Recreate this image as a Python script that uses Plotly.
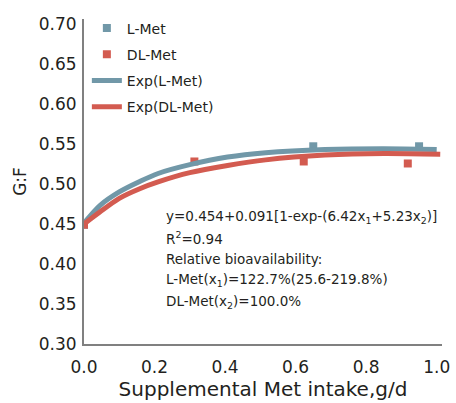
import plotly.graph_objects as go

# Observed data points
l_met_x = [0.0, 0.65, 0.95]
l_met_y = [0.449, 0.547, 0.547]
dl_met_x = [0.0, 0.313, 0.623, 0.918]
dl_met_y = [0.449, 0.528, 0.528, 0.5255]

# Fitted curves
exp_l_x = [0.0, 0.045, 0.1, 0.158, 0.21, 0.3, 0.407, 0.515, 0.683, 0.85, 1.0]
exp_l_y = [0.451, 0.473, 0.490, 0.503, 0.513, 0.524, 0.5335, 0.539, 0.543, 0.544, 0.543]
exp_dl_x = [0.0, 0.045, 0.1, 0.158, 0.21, 0.3, 0.407, 0.515, 0.683, 0.85, 1.01]
exp_dl_y = [0.450, 0.465, 0.482, 0.494, 0.5025, 0.514, 0.523, 0.530, 0.536, 0.538, 0.537]

x_ticks = [0.0, 0.2, 0.4, 0.6, 0.8, 1.0]
y_ticks = [0.30, 0.35, 0.40, 0.45, 0.50, 0.55, 0.60, 0.65, 0.70]

ann_lines = [
    "y=0.454+0.091[1-exp-(6.42x<sub>1</sub>+5.23x<sub>2</sub>)]",
    "R<sup>2</sup>=0.94",
    "Relative bioavailability:",
    "L-Met(x<sub>1</sub>)=122.7%(25.6-219.8%)",
    "DL-Met(x<sub>2</sub>)=100.0%",
]

BLUE = "#7198a8"
RED = "#d35b50"
TXT = "#231f20"
FONT = "DejaVu Sans"

fig = go.Figure()
fig.add_trace(go.Scatter(x=l_met_x, y=l_met_y, mode="markers", name="L-Met",
                         legendgroup="a",
                         marker=dict(symbol="square", size=8, color=BLUE)))
fig.add_trace(go.Scatter(x=dl_met_x, y=dl_met_y, mode="markers", name="DL-Met",
                         legendgroup="b",
                         marker=dict(symbol="square", size=8, color=RED)))
fig.add_trace(go.Scatter(x=exp_l_x, y=exp_l_y, mode="lines", name="Exp(L-Met)",
                         legendgroup="c",
                         line=dict(color=BLUE, width=5, shape="spline", smoothing=0.8)))
fig.add_trace(go.Scatter(x=exp_dl_x, y=exp_dl_y, mode="lines", name="Exp(DL-Met)",
                         legendgroup="d",
                         line=dict(color=RED, width=5, shape="spline", smoothing=0.8)))

for i, t in enumerate(ann_lines):
    fig.add_annotation(xref="paper", yref="paper", x=(164 - 84) / 358,
                       y=1 - (215 + i * 21.5 - 15) / 329,
                       text=t, showarrow=False, xanchor="left", yanchor="middle",
                       font=dict(family=FONT, size=13.5, color=TXT))

fig.update_layout(
    width=456, height=403,
    margin=dict(l=84, r=14, t=15, b=59),
    plot_bgcolor="white", paper_bgcolor="white",
    font=dict(family=FONT, color=TXT),
    showlegend=True,
    legend=dict(x=0.008, y=1.02, xanchor="left", yanchor="top",
                font=dict(family=FONT, size=14, color=TXT),
                tracegroupgap=5, traceorder="grouped",
                bgcolor="rgba(0,0,0,0)"),
    xaxis=dict(range=[0, 1.015], tickvals=x_ticks,
               ticktext=[f"{v:.1f}" for v in x_ticks],
               showline=True, linecolor="#808080", linewidth=2,
               showgrid=False, zeroline=False, ticks="",
               ticklabelstandoff=7, automargin=False,
               tickfont=dict(family=FONT, size=17, color=TXT),
               title=dict(text="Supplemental Met intake,g/d", standoff=6,
                          font=dict(family=FONT, size=20, color=TXT))),
    yaxis=dict(range=[0.3, 0.706], tickvals=y_ticks,
               ticktext=[f"{v:.2f}" for v in y_ticks],
               showline=True, linecolor="#808080", linewidth=2,
               showgrid=False, zeroline=False, ticks="",
               ticklabelstandoff=2, automargin=False,
               tickfont=dict(family=FONT, size=17, color=TXT),
               title=dict(text="G:F", standoff=8,
                          font=dict(family=FONT, size=17, color=TXT))),
)

fig.write_html("out.html")
